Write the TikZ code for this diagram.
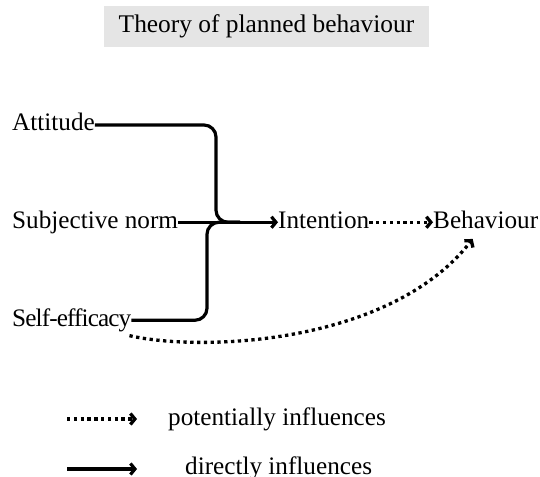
\documentclass[tikz,border=0pt]{standalone}
\usepackage{fontspec}
\setmainfont{Liberation Serif}
\usetikzlibrary{arrows.meta}
\definecolor{titlegray}{HTML}{E5E5E5}
\begin{document}
\begin{tikzpicture}[x=1pt,y=-1pt,
  txt/.style={inner sep=0pt, anchor=base west, font=\fontsize{25.2}{30}\selectfont},
  barb/.style={-{Straight Barb[length=4.5pt,width=11pt]}},
  direct/.style={line width=3.2pt, barb},
  link/.style={line width=3.2pt, rounded corners=12pt},
  potential/.style={line width=3.3pt, dash pattern=on 3.3pt off 3.5pt, barb}]
\useasboundingbox (0,0) rectangle (540,476);

% heading
\node[fill=titlegray, minimum width=325pt, minimum height=41pt, inner sep=0pt,
      font=\fontsize{25.4}{30}\selectfont] (title) at (266.5,26.5) {Theory of planned behaviour};

% constructs
\node[txt] (att) at (12,130.75) {Attitude};
\node[txt] (sn)  at (12,228) {Subjective norm};
\node[txt] (se)  at (12,326) {\addfontfeature{LetterSpace=-3.5}Self-efficacy};
\node[txt] (int) at (278,228) {Intention};
\node[txt] (beh) at (433,228) {Behaviour};

% merging paths into intention
\coordinate (join) at (240,222.25);
\draw[link] ([yshift=5.75pt]att.base east) -| (216,222.25) -- (join);
\draw[link] ([yshift=5.75pt]se.base east) -| (207,222.25) -- (join);
\draw[direct] ([yshift=5.75pt]sn.base east) -- ([yshift=5.75pt]int.base west);

% potential influences
\draw[potential] ([yshift=5.75pt]int.base east) -- ([yshift=5.75pt]beh.base west);
\draw[potential] ([shift={(-2,4)}]se.south east)
  .. controls (200,352) and (390,345) .. ([shift={(-13,10.5)}]beh.south);

% legend
\coordinate (k1a) at (67,419);
\coordinate (k1b) at (137,419);
\coordinate (k2a) at (67,469);
\coordinate (k2b) at (137,469);
\draw[potential] (k1a) -- (k1b);
\draw[direct] (k2a) -- (k2b);
\node[txt] (k1) at (168,425) {potentially influences};
\node[txt] (k2) at (185,474) {directly influences};
\end{tikzpicture}
\end{document}
